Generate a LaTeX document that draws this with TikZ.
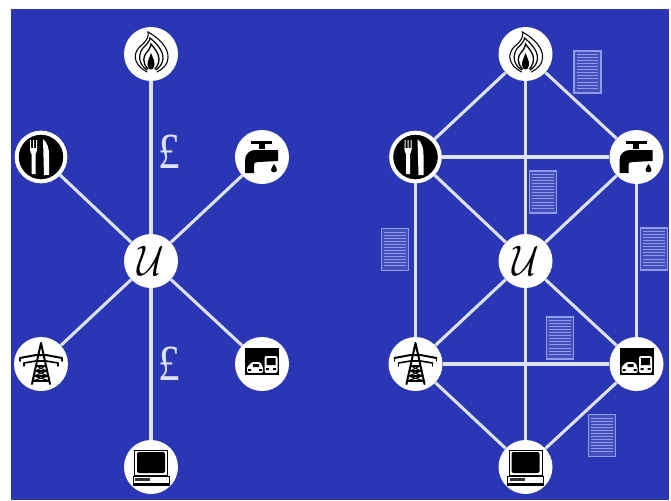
\documentclass[tikz,border=0pt]{standalone}
\usepackage{fontspec}
\newfontfamily\poundfont{Liberation Serif}
\usetikzlibrary{calc}
\definecolor{bgblue}{HTML}{2B36B4}
\definecolor{linkc}{HTML}{DDE2F8}
\definecolor{docc}{HTML}{8F9BE6}
\tikzset{
  x=0.75pt,y=-0.75pt,
  hub/.style={circle,fill=white,minimum size=40.5pt,inner sep=0pt},
  hubdark/.style={circle,fill=black,draw=white,line width=3pt,minimum size=36.5pt,inner sep=0pt},
  link/.style={draw=linkc,line width=2.3pt},
  docbox/.style={rectangle,draw=docc,fill=bgblue!88!white,line width=1.1pt,minimum width=20pt,minimum height=31.5pt,inner sep=0pt},
  rule/.style={draw=docc,line width=0.7pt},
  ink/.style={fill=black,draw=none},
  thinink/.style={draw=black,line width=0.6pt,line cap=round},
  poundlab/.style={text=linkc,inner sep=0pt,font=\poundfont\fontsize{38}{40}\selectfont}
}
% icons, drawn round the origin, 1 unit = 1 reference pixel
\newcommand{\iconflame}{%
  \draw[thinink,line width=0.8pt] (-4,18) .. controls (-20,9) and (-18,-3) .. (-8,-10) .. controls (-4,-14) and (-2,-18) .. (-3,-22) .. controls (8,-16) and (18,-6) .. (17,4) .. controls (17,10) and (12,15) .. (6,18);
  \draw[thinink,line width=0.9pt] (-4,16) .. controls (-14,9) and (-13,-2) .. (-6,-8) .. controls (-3,-11) and (-1,-14) .. (-1,-16) .. controls (5,-11) and (12,-4) .. (12,4) .. controls (12,9) and (9,13) .. (5,16);
  \draw[thinink,line width=1pt] (-3,15) .. controls (-9,9) and (-8,2) .. (-4,-2) .. controls (-2,-4) and (0,-8) .. (0,-10) .. controls (3,-6) and (8,-1) .. (8,5) .. controls (8,9) and (6,13) .. (4,15);
  \fill[ink] (0,-1) .. controls (1.5,3) and (4,7) .. (3.5,11) .. controls (3,17) and (-3,17) .. (-3.5,11) .. controls (-4,7) and (-1,3) .. (0,-1) -- cycle;
}
\newcommand{\iconcutlery}{%
  \fill[white] (-11,-17) rectangle (-10,-7) (-8,-17) rectangle (-7,-7) (-5,-17) rectangle (-4,-7);
  \fill[white] (-11,-9) .. controls (-11,-4) and (-9.5,-4) .. (-9.5,-3) -- (-9.5,17) -- (-5.5,17) -- (-5.5,-3) .. controls (-5.5,-4) and (-4,-4) .. (-4,-9) -- cycle;
  \fill[white] (2,-18) .. controls (7,-14) and (8,-8) .. (8,-2) -- (8,18) -- (3,18) -- cycle;
}
\newcommand{\icontap}{%
  \fill[ink] (-11,-16.5) rectangle (10,-13.5);
  \fill[ink] (-3.5,-14) rectangle (2.5,-8);
  \fill[ink] (-17,16) -- (-17,3) .. controls (-17,-3) and (-12,-7) .. (-7,-7) -- (16,-7) -- (16,4) -- (-4,5) .. controls (-7,5) and (-8,6) .. (-8,8) -- (-8,16) -- cycle;
  \fill[ink] (12,7) .. controls (13,9) and (15,11) .. (15,13) .. controls (15,16) and (9,16) .. (9,13) .. controls (9,11) and (11,9) .. (12,7) -- cycle;
}
\newcommand{\iconpylon}{%
  \draw[thinink,line width=1.5pt] (0,-21) -- (-9,20) (0,-21) -- (9,20);
  \draw[thinink,line width=1.5pt] (-21,-6) -- (-5,-9) -- (5,-9) -- (21,-6);
  \draw[thinink,line width=1.2pt] (-17,-1) -- (-5,-3) -- (5,-3) -- (17,-1);
  \draw[thinink,line width=1pt] (-21,-6) -- (-21,-3) (21,-6) -- (21,-3) (-17,-1) -- (-17,2) (17,-1) -- (17,2);
  \draw[thinink,line width=1.2pt] (-4.5,2) -- (4.5,2) (-5.5,7) -- (5.5,7) (-7,12) -- (7,12) (-8.5,17) -- (8.5,17);
  \draw[thinink,line width=0.8pt] (-4.5,2) -- (5.5,7) -- (-7,12) -- (8.5,17) (4.5,2) -- (-5.5,7) -- (7,12) -- (-8.5,17);
}
\newcommand{\iconbus}{%
  \fill[ink] (-17,-16) rectangle (17,11);
  \fill[white,rounded corners=1pt] (-15,9) -- (-15,3) -- (-10,-2) -- (-2,-2) -- (1,3) -- (1,9) -- cycle;
  \fill[white,rounded corners=1.5pt] (2.5,9) -- (2.5,-8) -- (15.5,-8) -- (15.5,9) -- cycle;
  \fill[ink] (-9,0) rectangle (-3,3) (4.5,-6) rectangle (13.5,1);
  \fill[ink] (-14,5) rectangle (-11,7) (-3,5) rectangle (0,7) (4,4) rectangle (7,6) (11,4) rectangle (14,6);
  \fill[ink] (-15,8.5) rectangle (15.5,9.5);
}
\newcommand{\iconcomputer}{%
  \fill[ink] (-17,-17) rectangle (17,9);
  \fill[white] (-16,-16) rectangle (16,8);
  \fill[ink,rounded corners=1.5pt] (-14,-15) rectangle (14,6);
  \draw[black,line width=0.7pt,fill=white] (-18,9) rectangle (18,18);
  \fill[black!80] (-16,11) rectangle (-1,14);
  \fill[ink] (-18,15.5) rectangle (18,18);
}
\newcommand{\docat}[2]{%
  \node[docbox] (#1) at (#2) {};
  \foreach \f in {0.1,0.17,...,0.93}
    \draw[rule] ($(#1.north west)!\f!(#1.south west)+(3.5,0)$) -- ($(#1.north east)!\f!(#1.south east)+(-3.5,0)$);
}
\newcommand{\hubset}[2]{%
  \begin{scope}[shift={(#2,0)}]
    \node[hub] (#1gas) at (151,54) {};
    \node[hubdark] (#1eat) at (41,157) {};
    \node[hub] (#1tap) at (262,157) {};
    \node[hub] (#1u) at (151,261) {\scalebox{2.75}[3.2]{$\mathcal{U}$}};
    \node[hub] (#1pyl) at (41,364) {};
    \node[hub] (#1bus) at (262,364) {};
    \node[hub] (#1com) at (151,467) {};
    \begin{scope}[shift={(151,54)}]\iconflame\end{scope}
    \begin{scope}[shift={(41,157)}]\iconcutlery\end{scope}
    \begin{scope}[shift={(262,157)}]\icontap\end{scope}
    \begin{scope}[shift={(41,364)}]\iconpylon\end{scope}
    \begin{scope}[shift={(262,364)}]\iconbus\end{scope}
    \begin{scope}[shift={(151,467)}]\iconcomputer\end{scope}
  \end{scope}
}
\begin{document}
\begin{tikzpicture}
\useasboundingbox (0,0) rectangle (671,500);
\fill[white] (0,0) rectangle (671,500);
\fill[bgblue] (11,9) rectangle (669,500);
% left network
\hubset{a}{0}
\foreach \n in {gas,eat,tap,pyl,bus,com}
  \draw[link] (au) -- (a\n);
\node[poundlab] (p1) at (169,152) {\scalebox{0.85}[1]{£}};
\node[poundlab] (p2) at (169,364) {\scalebox{0.85}[1]{£}};
% right network
\hubset{b}{374.5}
\foreach \n in {gas,eat,tap,pyl,bus,com}
  \draw[link] (bu) -- (b\n);
\draw[link] (bgas) -- (beat);
\draw[link] (bgas) -- (btap);
\draw[link] (beat) -- (btap);
\draw[link] (beat) -- (bpyl);
\draw[link] (btap) -- (bbus);
\draw[link] (bpyl) -- (bbus);
\draw[link] (bpyl) -- (bcom);
\draw[link] (bbus) -- (bcom);
\docat{d1}{587.5,72}
\docat{d2}{543,192}
\docat{d3}{395,249.5}
\docat{d4}{654,249}
\docat{d5}{560,338}
\docat{d6}{602,435.5}
\end{tikzpicture}
\end{document}
